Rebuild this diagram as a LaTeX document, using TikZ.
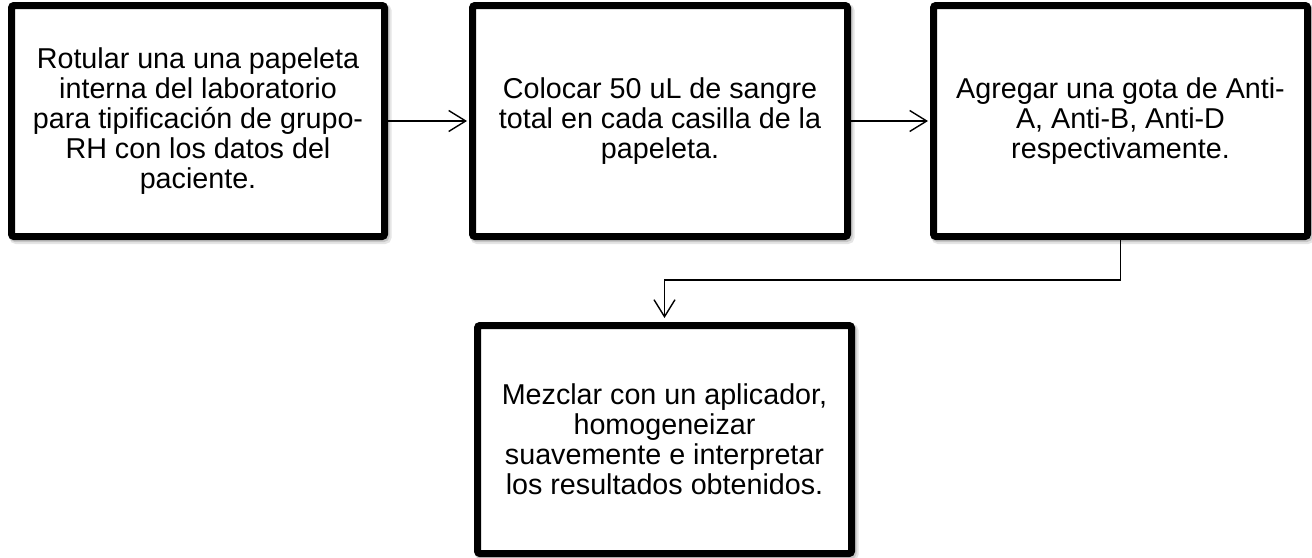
\documentclass[tikz,border=0pt]{standalone}
\usepackage{fontspec}
\setmainfont{Liberation Sans}
\usetikzlibrary{arrows.meta}
\begin{document}
\begin{tikzpicture}[x=1pt,y=-1pt,
  stepbox/.style={draw=black, line width=7pt, rounded corners=2.5pt, fill=white,
    inner sep=0pt, align=center, minimum width=374pt,
    font=\fontsize{28.7}{30}\selectfont,
    preaction={draw=black!10, line width=9pt, transform canvas={shift={(2.5pt,-3pt)}}},
    preaction={draw=black!22, line width=7pt, transform canvas={shift={(1.5pt,-2pt)}}}},
  conn/.style={draw=black, line width=1.4pt, -{Straight Barb[length=17pt,width=21pt,line width=1.4pt]}}]
\useasboundingbox (0,0) rectangle (1312,557);
\node[stepbox, minimum width=373pt, minimum height=231pt] (b1) at (198,121)
  {Rotular una una papeleta\\interna del laboratorio\\para tipificación de grupo-\\RH con los datos del\\paciente.};
\node[stepbox, minimum width=375pt, minimum height=231pt] (b2) at (660,121)
  {Colocar 50 uL de sangre\\total en cada casilla de la\\papeleta.};
\node[stepbox, minimum width=374pt, minimum height=231pt] (b3) at (1120.5,121)
  {Agregar una gota de Anti-\\A, Anti-B, Anti-D\\respectivamente.};
\node[stepbox, minimum width=374pt, minimum height=228pt] (b4) at (664.5,439.5)
  {Mezclar con un aplicador,\\homogeneizar\\suavemente e interpretar\\los resultados obtenidos.};
\draw[conn, shorten >=2pt] (b1.east) -- (b2.west);
\draw[conn, shorten >=2pt] (b2.east) -- (b3.west);
\draw[conn, shorten >=4pt] (b3.south) -- ++(0,40) coordinate (k) -| (b4.north);
\end{tikzpicture}
\end{document}
